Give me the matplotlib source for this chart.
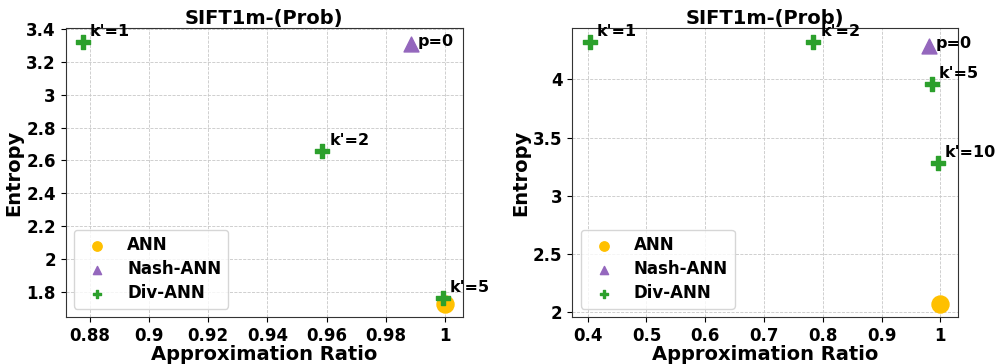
import matplotlib

matplotlib.use("Agg")
import matplotlib.pyplot as plt
from matplotlib.ticker import FuncFormatter

# Left panel values
left_ann_x = [1.0]
left_ann_y = [1.725]
left_nash_x = [0.9883]
left_nash_y = [3.31]
left_nash_labels = ["p=0"]
left_div_x = [0.8777, 0.9585, 0.9991]
left_div_y = [3.319, 2.658, 1.762]
left_div_labels = ["k'=1", "k'=2", "k'=5"]

# Right panel values
right_ann_x = [1.0]
right_ann_y = [2.069]
right_nash_x = [0.980]
right_nash_y = [4.29]
right_nash_labels = ["p=0"]
right_div_x = [0.404, 0.784, 0.9857, 0.996]
right_div_y = [4.318, 4.318, 3.962, 3.28]
right_div_labels = ["k'=1", "k'=2", "k'=5", "k'=10"]

ANN_COLOR = "#FFC000"
NASH_COLOR = "#9467bd"
DIV_COLOR = "#2ca02c"

plt.rcParams["font.family"] = "DejaVu Sans"
plt.rcParams["font.weight"] = "bold"

fmt = FuncFormatter(lambda v, p: f"{v:g}")


def draw_panel(ax, ann, nash, div, xlim, ylim, xticks, yticks):
    ax.scatter(ann[0], ann[1], marker="o", s=150, color=ANN_COLOR, label="ANN", zorder=3)
    ax.scatter(nash[0], nash[1], marker="^", s=115, color=NASH_COLOR, label="Nash-ANN", zorder=3)
    ax.scatter(div[0], div[1], marker="P", s=100, color=DIV_COLOR, label="Div-ANN", zorder=4)
    for x, y, t in zip(nash[0], nash[1], nash[2]):
        ax.annotate(t, (x, y), xytext=(5, -1.5), textcoords="offset points",
                    fontsize=11.5, fontweight="bold", va="baseline")
    for x, y, t in zip(div[0], div[1], div[2]):
        ax.annotate(t, (x, y), xytext=(5, 4.5), textcoords="offset points",
                    fontsize=11.5, fontweight="bold", va="baseline")
    ax.set_xlim(*xlim)
    ax.set_ylim(*ylim)
    ax.set_xticks(xticks)
    ax.set_yticks(yticks)
    ax.xaxis.set_major_formatter(fmt)
    ax.yaxis.set_major_formatter(fmt)
    ax.tick_params(labelsize=12)
    ax.grid(True, linestyle="--", linewidth=0.6, color="#c8c8c8")
    ax.set_axisbelow(True)
    ax.set_title("SIFT1m-(Prob)", fontsize=14, fontweight="bold", pad=3)
    ax.set_xlabel("Approximation Ratio", fontsize=14, fontweight="bold", labelpad=0)
    ax.set_ylabel("Entropy", fontsize=14, fontweight="bold", labelpad=2)
    for sp in ax.spines.values():
        sp.set_color("#333333")
    ax.legend(loc="lower left", fontsize=12, markerscale=0.55, framealpha=0.8,
              labelspacing=0.35)


fig = plt.figure(figsize=(9.97, 3.64), dpi=100)
ax1 = fig.add_axes([0.0659, 0.1291, 0.3985, 0.7931])
ax2 = fig.add_axes([0.574, 0.1291, 0.3872, 0.7931])

draw_panel(ax1, (left_ann_x, left_ann_y), (left_nash_x, left_nash_y, left_nash_labels),
           (left_div_x, left_div_y, left_div_labels),
           (0.8719, 1.006), (1.648, 3.404),
           [0.88, 0.9, 0.92, 0.94, 0.96, 0.98, 1.0],
           [1.8, 2.0, 2.2, 2.4, 2.6, 2.8, 3.0, 3.2, 3.4])
draw_panel(ax2, (right_ann_x, right_ann_y), (right_nash_x, right_nash_y, right_nash_labels),
           (right_div_x, right_div_y, right_div_labels),
           (0.3738, 1.0306), (1.96, 4.438),
           [0.4, 0.5, 0.6, 0.7, 0.8, 0.9, 1.0],
           [2.0, 2.5, 3.0, 3.5, 4.0])

fig.savefig("out.png", dpi=100)
